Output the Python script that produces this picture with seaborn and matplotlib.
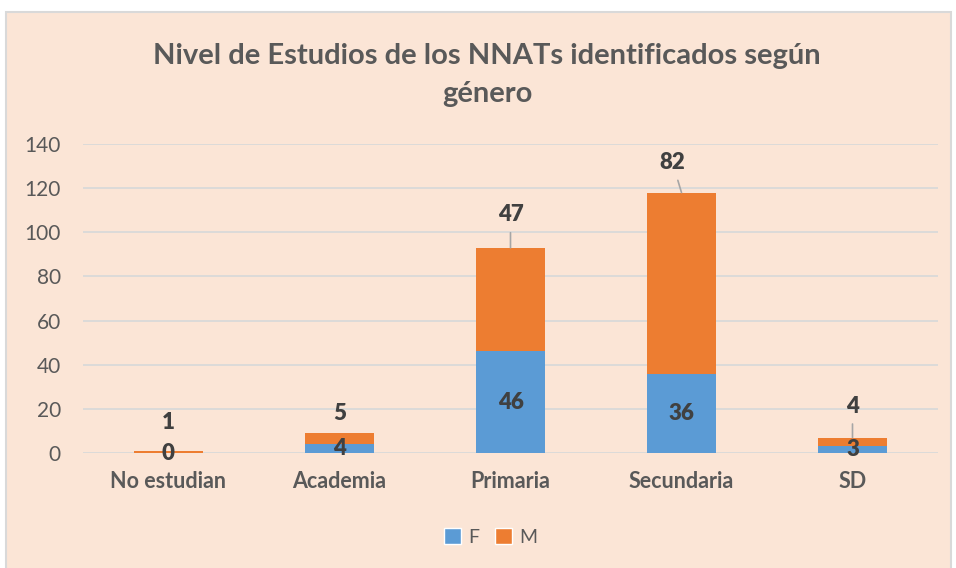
import numpy as np
import pandas as pd
import matplotlib.pyplot as plt
import seaborn as sns
from matplotlib.patches import Rectangle, Patch

# Datos del gráfico
niveles = ['No estudian', 'Academia', 'Primaria', 'Secundaria', 'SD']
valores_f = [0, 4, 46, 36, 3]
valores_m = [1, 5, 47, 82, 4]
yticks = [0, 20, 40, 60, 80, 100, 120, 140]

F_COLOR = '#5B9BD5'
M_COLOR = '#ED7D31'
FONDO = '#FBE5D6'
GRIS = '#595959'

df = pd.DataFrame({'nivel': niveles, 'F': valores_f, 'M': valores_m})
df['total'] = df['F'] + df['M']

sns.set_theme(style='white')
plt.rcParams['font.family'] = ['Lato', 'DejaVu Sans']

fig = plt.figure(figsize=(9.56, 5.68), dpi=100, facecolor='white')

# Caja de fondo del gráfico
fig.patches.append(Rectangle((6 / 956, -0.05), 945 / 956, 1.05 - 12 / 568,
                             transform=fig.transFigure, facecolor=FONDO,
                             edgecolor='#D9D9D9', linewidth=1.5, zorder=-5))

ax = fig.add_axes([83 / 956, 1 - 453 / 568, 855 / 956, 309 / 568])
ax.set_facecolor('none')

# Barras apiladas: total (M) detrás y F delante
sns.barplot(data=df, x='nivel', y='total', color=M_COLOR, width=0.4,
            saturation=1, linewidth=0, ax=ax, zorder=3)
sns.barplot(data=df, x='nivel', y='F', color=F_COLOR, width=0.4,
            saturation=1, linewidth=0, ax=ax, zorder=4)

ax.set_xlim(-0.5, len(niveles) - 0.5)
ax.set_ylim(0, 140)
ax.set_yticks(yticks)
ax.set_xlabel('')
ax.set_ylabel('')
ax.grid(axis='y', color='#D9D9D9', linewidth=1.3, zorder=0)
ax.set_axisbelow(True)
sns.despine(ax=ax, left=True, bottom=True)
ax.tick_params(axis='both', length=0, colors=GRIS)
ax.tick_params(axis='y', labelsize=15, pad=16)
ax.tick_params(axis='x', pad=13)
for lbl in ax.get_xticklabels():
    lbl.set_fontweight('bold')
    lbl.set_fontsize(15.5)

# Etiquetas de F (centro del segmento)
for i, v in enumerate(valores_f):
    ax.text(i, v / 2, str(v), ha='center', va='center', fontsize=16,
            fontweight='heavy', color='#404040', zorder=6)

# Etiquetas de M (sobre la barra, algunas con línea guía)
dy_px = [28, 20, 33, 30, 31.5]
dx_px = [0, 0, 0, -9, 0]
guia = [False, False, True, True, True]
for i, (v, tot) in enumerate(zip(valores_m, df['total'])):
    props = None
    if guia[i]:
        props = dict(arrowstyle='-', color='#A6A6A6', lw=1.2,
                     shrinkA=3, shrinkB=0)
    ax.annotate(str(v), xy=(i, tot), xytext=(dx_px[i] * 0.72, dy_px[i] * 0.72),
                textcoords='offset points', ha='center', va='center',
                fontsize=16, fontweight='heavy', color='#404040',
                arrowprops=props, annotation_clip=False, zorder=6)

# Título
fig.text(487 / 956, 1 - 75 / 568,
         'Nivel de Estudios de los NNATs identificados según\ngénero',
         ha='center', va='center', fontsize=21, fontweight='bold',
         color=GRIS, linespacing=1.6)

# Leyenda
handles = [Patch(facecolor=F_COLOR), Patch(facecolor=M_COLOR)]
fig.legend(handles, ['F', 'M'], loc='center',
           bbox_to_anchor=(491 / 956, 1 - 537 / 568), ncol=2, frameon=False,
           handlelength=0.85, handleheight=0.85, handletextpad=0.4,
           columnspacing=0.8, fontsize=14, labelcolor=GRIS)

fig.savefig('out.png', dpi=100, facecolor='white')
